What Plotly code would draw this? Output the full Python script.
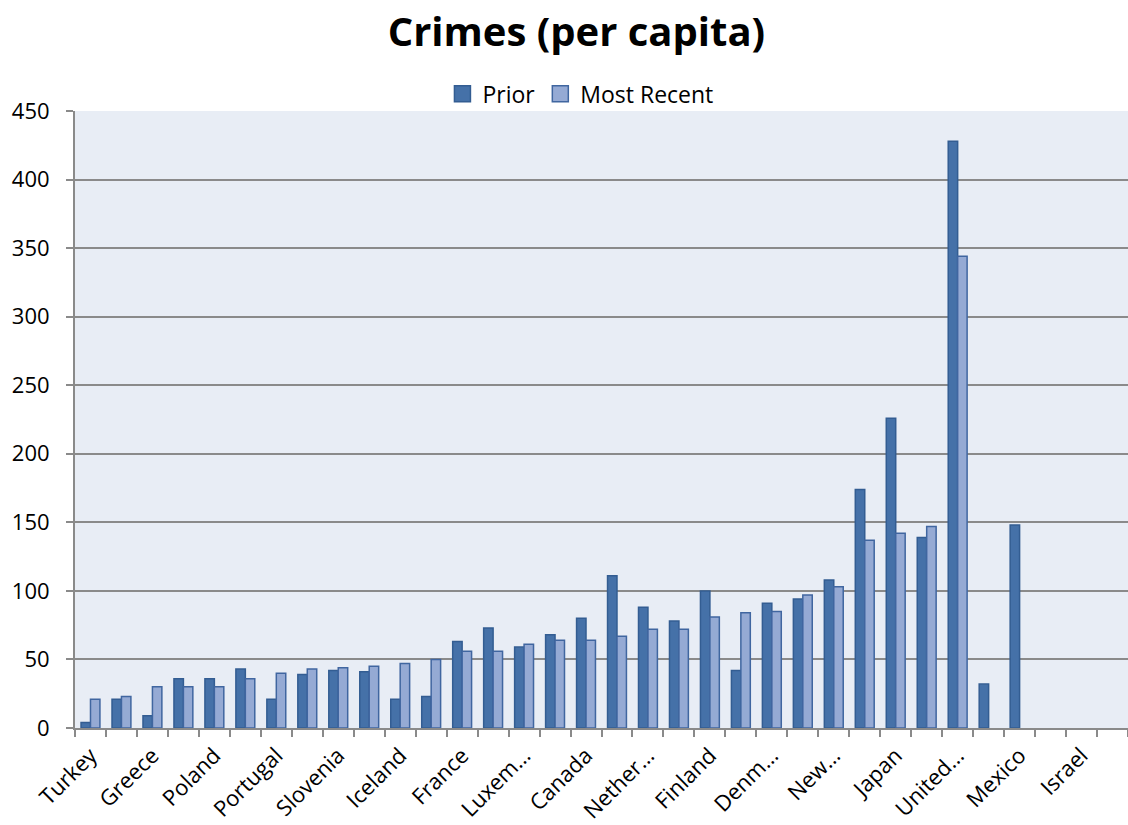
import plotly.graph_objects as go

# Crimes per capita by country: earlier survey vs latest survey
prior = [4, 21, 9, 36, 36, 43, 21, 39, 42, 41, 21, 23, 63, 73, 59, 68, 80,
         111, 88, 78, 100, 42, 91, 94, 108, 174, 226, 139, 428, 32, 148,
         None, None, None]
most_recent = [21, 23, 30, 30, 30, 36, 40, 43, 44, 45, 47, 50, 56, 56, 61,
               64, 64, 67, 72, 72, 81, 84, 85, 97, 103, 137, 142, 147, 344,
               None, None, None, None, None]

# Only every other category carries a label on the axis
tick_labels = ["Turkey", "Greece", "Poland", "Portugal", "Slovenia", "Iceland",
               "France", "Luxem…", "Canada", "Nether…", "Finland", "Denm…",
               "New…", "Japan", "United…", "Mexico", "Israel"]

series_names = ["Prior", "Most Recent"]
fill_colors = ["#4571a8", "#95aad4"]
edge_colors = ["#335d92", "#4066a0"]

positions = list(range(len(prior)))
label_positions = positions[::2]

FONT = "Open Sans"
GRID = "#8a8a8a"

fig = go.Figure()
for values, name, fill, edge in zip([prior, most_recent], series_names,
                                    fill_colors, edge_colors):
    fig.add_trace(go.Bar(
        x=positions, y=values, name=name, showlegend=False,
        marker=dict(color=fill, line=dict(color=edge, width=1.5)),
    ))

# Legend entries with larger square swatches
for name, fill, edge in zip(series_names, fill_colors, edge_colors):
    fig.add_trace(go.Scatter(
        x=[None], y=[None], name=name, mode="markers",
        marker=dict(symbol="square", size=16, color=fill,
                    line=dict(color=edge, width=1.5)),
    ))

fig.update_layout(
    width=1128, height=825,
    margin=dict(l=75, r=0, t=111, b=97, autoexpand=False),
    paper_bgcolor="white",
    plot_bgcolor="#e8edf5",
    barmode="group",
    bargap=0.39,
    bargroupgap=0,
    font=dict(family=FONT, size=22, color="black"),
    title=dict(text="<b>Crimes (per capita)</b>", x=0.511, xanchor="center",
               y=0.961, yanchor="middle",
               font=dict(family=FONT, size=40, color="black")),
    legend=dict(orientation="h", x=0.48, xanchor="center", y=1.028,
                yanchor="middle", font=dict(family=FONT, size=23),
                itemwidth=30, itemsizing="trace", traceorder="normal",
                bgcolor="rgba(0,0,0,0)"),
    showlegend=True,
)

fig.update_xaxes(
    range=[-0.5, len(prior) - 0.5],
    tickmode="array", tickvals=label_positions, ticktext=tick_labels,
    tickangle=-45, ticks="", ticklabelstandoff=4,
    automargin=False,
    showline=True, linecolor=GRID, linewidth=2,
    showgrid=False, zeroline=False,
    minor=dict(tick0=-0.5, dtick=1, ticks="outside", ticklen=7,
               tickcolor=GRID, tickwidth=2, showgrid=False),
    tickfont=dict(family=FONT, size=22),
)
fig.update_yaxes(
    range=[0, 450], tickmode="linear", tick0=0, dtick=50,
    ticks="outside", ticklen=7, tickcolor=GRID, tickwidth=2,
    ticklabelstandoff=12, automargin=False,
    showline=True, linecolor=GRID, linewidth=2,
    showgrid=True, gridcolor=GRID, gridwidth=2,
    zeroline=False,
    tickfont=dict(family=FONT, size=22),
)

fig.write_html("out.html")
